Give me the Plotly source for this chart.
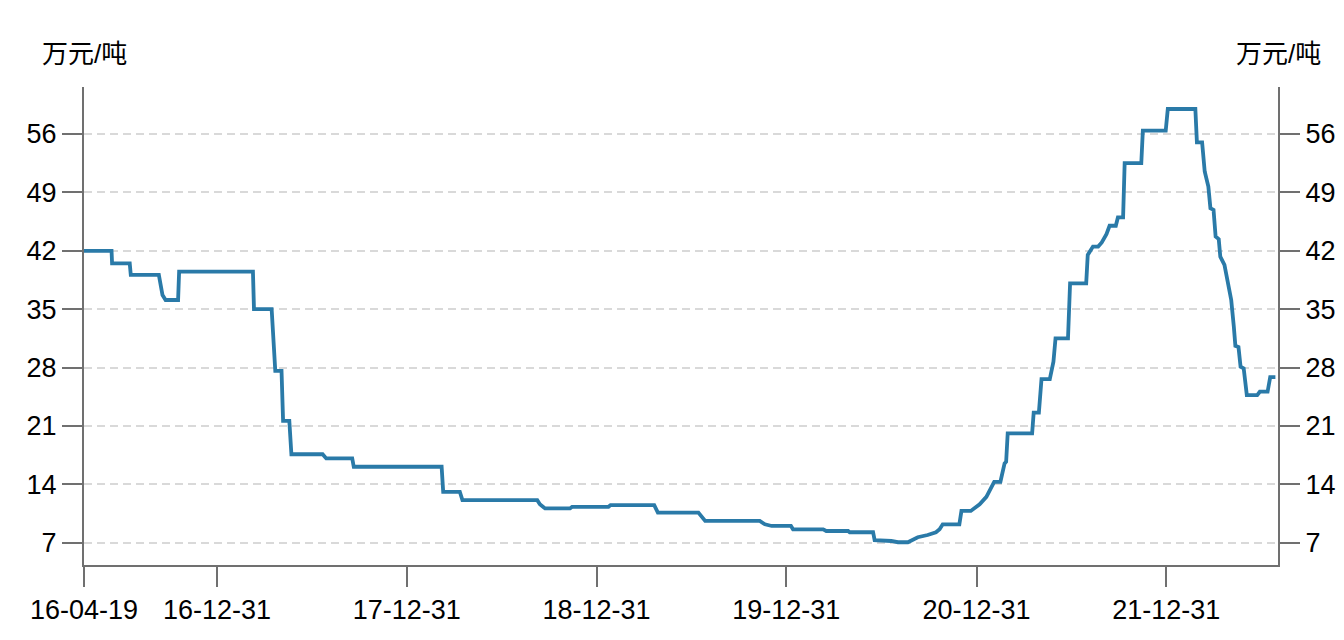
import plotly.graph_objects as go

dates = [
    "2016-04-19", "2016-06-11", "2016-06-12", "2016-07-16", "2016-07-18", "2016-09-10",
    "2016-09-17", "2016-09-23", "2016-10-17", "2016-10-19", "2017-03-10", "2017-03-12",
    "2017-04-15", "2017-04-22", "2017-05-04", "2017-05-07", "2017-05-19", "2017-05-23",
    "2017-07-22", "2017-07-29", "2017-09-17", "2017-09-20", "2018-03-08", "2018-03-11",
    "2018-04-12", "2018-04-17", "2018-09-08", "2018-09-13", "2018-09-23", "2018-11-10",
    "2018-11-14", "2019-01-23", "2019-01-27", "2019-04-21", "2019-04-28", "2019-07-15",
    "2019-07-28", "2019-11-10", "2019-11-20", "2019-12-03", "2020-01-09", "2020-01-13",
    "2020-03-11", "2020-03-17", "2020-04-28", "2020-05-01", "2020-06-15", "2020-06-18",
    "2020-07-20", "2020-08-02", "2020-08-21", "2020-08-31", "2020-09-09", "2020-09-28",
    "2020-10-14", "2020-10-21", "2020-10-27", "2020-11-28", "2020-12-02", "2020-12-20",
    "2020-12-28", "2021-01-06", "2021-01-19", "2021-01-28", "2021-02-03", "2021-02-15",
    "2021-02-23", "2021-02-26", "2021-03-01", "2021-04-17", "2021-04-20", "2021-04-30",
    "2021-05-05", "2021-05-21", "2021-05-26", "2021-05-28", "2021-06-01", "2021-06-25",
    "2021-06-29", "2021-07-30", "2021-08-02", "2021-08-12", "2021-08-22", "2021-08-29",
    "2021-09-07", "2021-09-13", "2021-09-25", "2021-09-29", "2021-10-09", "2021-10-12",
    "2021-11-13", "2021-11-16", "2021-12-30", "2022-01-03", "2022-02-25", "2022-02-28",
    "2022-03-10", "2022-03-15", "2022-03-22", "2022-03-26", "2022-04-01", "2022-04-05",
    "2022-04-11", "2022-04-14", "2022-04-22", "2022-04-30", "2022-05-05", "2022-05-10",
    "2022-05-13", "2022-05-19", "2022-05-23", "2022-05-29", "2022-06-04", "2022-06-24",
    "2022-06-29", "2022-07-14", "2022-07-19", "2022-07-29",
]
prices = [
    42.0, 42.0, 40.5, 40.5, 39.1, 39.1,
    36.7, 36.1, 36.1, 39.5, 39.5, 35.0,
    35.0, 27.6, 27.6, 21.6, 21.6, 17.6,
    17.6, 17.1, 17.1, 16.1, 16.1, 13.1,
    13.1, 12.1, 12.1, 11.6, 11.1, 11.1,
    11.3, 11.3, 11.5, 11.5, 10.6, 10.6,
    9.6, 9.6, 9.2, 9.0, 9.0, 8.6,
    8.6, 8.4, 8.4, 8.25, 8.25, 7.3,
    7.2, 7.05, 7.05, 7.4, 7.65, 7.92,
    8.25, 8.6, 9.2, 9.2, 10.8, 10.8,
    11.2, 11.6, 12.5, 13.7, 14.3, 14.3,
    16.5, 16.7, 20.1, 20.1, 22.6, 22.6,
    26.6, 26.6, 28.1, 28.7, 31.5, 31.5,
    38.1, 38.1, 41.5, 42.5, 42.5, 43.0,
    44.0, 45.0, 45.0, 46.0, 46.0, 52.5,
    52.5, 56.4, 56.4, 59.0, 59.0, 55.0,
    55.0, 51.5, 49.7, 47.1, 46.9, 43.7,
    43.4, 41.3, 40.3, 37.3, 36.1, 32.9,
    30.6, 30.45, 28.1, 27.9, 24.7, 24.7,
    25.1, 25.1, 26.85, 26.85,
]

x_tick_vals = ["2016-04-19", "2016-12-31", "2017-12-31", "2018-12-31",
               "2019-12-31", "2020-12-31", "2021-12-31"]
x_tick_text = ["16-04-19", "16-12-31", "17-12-31", "18-12-31",
               "19-12-31", "20-12-31", "21-12-31"]
y_ticks = [7, 14, 21, 28, 35, 42, 49, 56]
unit_label = "万元/吨"

FONT = "Liberation Sans, Arial, Noto Sans CJK SC, sans-serif"
AXIS_COLOR = "#707070"
Y_RANGE = [4.32, 61.64]
FS = 27

fig = go.Figure()
fig.add_trace(go.Scatter(
    x=dates, y=prices, mode="lines",
    line=dict(color="#2a7aa8", width=3.8),
    showlegend=False, hoverinfo="x+y",
))
fig.add_trace(go.Scatter(
    x=dates, y=prices, mode="lines", yaxis="y2",
    line=dict(color="rgba(0,0,0,0)", width=0),
    showlegend=False, hoverinfo="skip",
))

fig.update_layout(
    width=1344, height=640,
    margin=dict(l=84, r=66, t=87, b=75),
    paper_bgcolor="white", plot_bgcolor="white",
    font=dict(family=FONT, size=FS, color="black"),
    xaxis=dict(
        type="date",
        range=["2016-04-19", "2022-08-03"],
        tickmode="array", tickvals=x_tick_vals, ticktext=x_tick_text,
        showgrid=False, zeroline=False,
        showline=True, linecolor=AXIS_COLOR, linewidth=2,
        ticks="outside", ticklen=20, tickwidth=2, tickcolor=AXIS_COLOR,
        tickfont=dict(size=FS, family=FONT, color="black"),
        automargin=False,
    ),
    yaxis=dict(
        range=Y_RANGE,
        tickmode="array", tickvals=y_ticks,
        showgrid=True, gridcolor="#d9d9d9", gridwidth=1.5, griddash="8px,5px",
        zeroline=False,
        showline=True, linecolor=AXIS_COLOR, linewidth=2,
        ticks="outside", ticklen=20, tickwidth=2, tickcolor=AXIS_COLOR,
        tickfont=dict(size=FS, family=FONT, color="black"),
        ticklabelstandoff=0, automargin=False,
    ),
    yaxis2=dict(
        range=Y_RANGE, overlaying="y", side="right",
        tickmode="array", tickvals=y_ticks,
        showgrid=False, zeroline=False,
        showline=True, linecolor=AXIS_COLOR, linewidth=2,
        ticks="outside", ticklen=20, tickwidth=2, tickcolor=AXIS_COLOR,
        tickfont=dict(size=FS, family=FONT, color="black"),
        ticklabelstandoff=0, automargin=False,
    ),
    annotations=[
        dict(text=unit_label, xref="paper", yref="paper", x=0, y=1,
             xanchor="center", yanchor="bottom", yshift=16, showarrow=False,
             font=dict(size=FS - 1, family=FONT, color="black")),
        dict(text=unit_label, xref="paper", yref="paper", x=1, y=1,
             xanchor="center", yanchor="bottom", yshift=16, showarrow=False,
             font=dict(size=FS - 1, family=FONT, color="black")),
    ],
)

fig.write_html(
    "out.html",
    config={"displayModeBar": False},
    post_script="document.body.style.margin='0';document.body.style.padding='0';",
)
